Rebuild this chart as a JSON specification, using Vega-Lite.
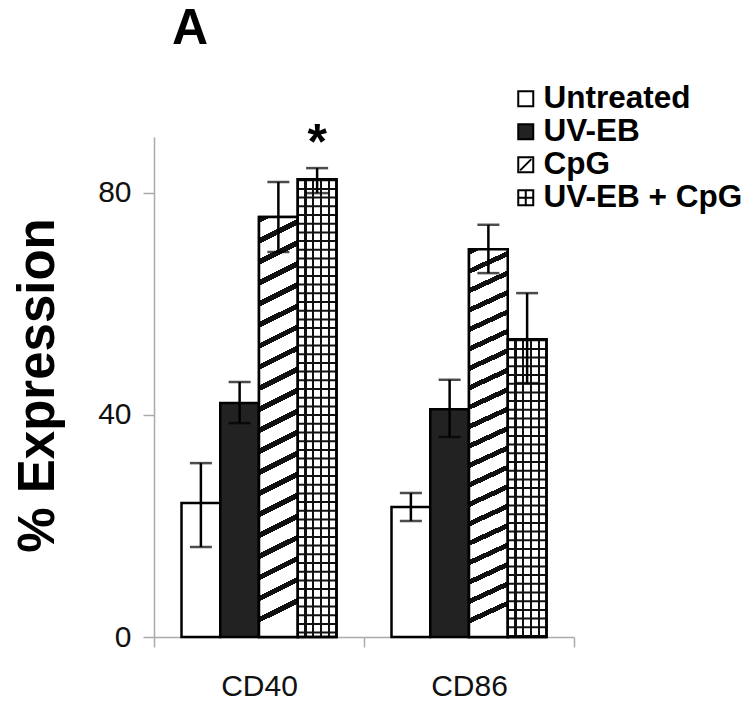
{
  "$schema": "https://vega.github.io/schema/vega-lite/v6.json",
  "width": 420,
  "height": 500,
  "autosize": {"type": "none"},
  "padding": {"left": 154, "top": 137, "right": 176, "bottom": 78},
  "background": "white",
  "config": {"view": {"stroke": null}, "font": "Liberation Sans"},
  "title": {"text": "A", "anchor": "start", "frame": "group", "fontSize": 50, "fontWeight": "bold", "font": "Liberation Sans", "color": "black", "dx": 18, "offset": -11, "baseline": "alphabetic"},
  "data": {"values": [
    {"marker": "CD40", "treatment": "Untreated", "value": 24.1, "lo": 16.2, "hi": 31.3},
    {"marker": "CD40", "treatment": "UV-EB", "value": 42.1, "lo": 38.5, "hi": 45.9},
    {"marker": "CD40", "treatment": "CpG", "value": 75.6, "lo": 69.3, "hi": 81.9},
    {"marker": "CD40", "treatment": "UV-EB + CpG", "value": 82.4, "lo": 79.9, "hi": 84.4, "sig": "*"},
    {"marker": "CD86", "treatment": "Untreated", "value": 23.4, "lo": 20.9, "hi": 25.9},
    {"marker": "CD86", "treatment": "UV-EB", "value": 41.0, "lo": 36.0, "hi": 46.3},
    {"marker": "CD86", "treatment": "CpG", "value": 69.8, "lo": 65.5, "hi": 74.2},
    {"marker": "CD86", "treatment": "UV-EB + CpG", "value": 53.6, "lo": 45.7, "hi": 61.9}
  ]},
  "encoding": {
    "x": {"field": "marker", "type": "nominal", "title": null,
      "scale": {"paddingInner": 0, "paddingOuter": 0},
      "axis": {"tickBand": "extent", "labelAngle": 0, "domainColor": "#aaaaaa", "tickColor": "#aaaaaa", "tickSize": 10, "domainWidth": 1.5, "tickWidth": 1.5, "labelFontSize": 30, "labelFont": "Liberation Sans", "labelColor": "#111111", "labelPadding": 24}},
    "xOffset": {"field": "treatment", "type": "nominal", "sort": ["Untreated", "UV-EB", "CpG", "UV-EB + CpG"],
      "scale": {"domain": ["Untreated", "UV-EB", "CpG", "UV-EB + CpG"], "paddingInner": 0, "paddingOuter": 0.71}}
  },
  "layer": [
    {
      "mark": {"type": "bar", "stroke": "black", "strokeWidth": 2.5},
      "encoding": {
        "y": {"field": "value", "type": "quantitative", "title": "% Expression", "scale": {"domain": [0, 90]},
          "axis": {"values": [0, 40, 80], "grid": false, "domainColor": "#aaaaaa", "tickColor": "#aaaaaa", "domainWidth": 1.5, "tickWidth": 1.5, "tickSize": 11, "labelFontSize": 30, "labelFont": "Liberation Sans", "labelColor": "#111111", "labelPadding": 12,
            "titleFontSize": 51, "titleFontWeight": "bold", "titleFont": "Liberation Sans", "titleColor": "black", "titleX": -101, "titleY": 248, "titleAngle": -90, "titleBaseline": "alphabetic", "titleAlign": "center"}},
        "color": {"field": "treatment", "type": "nominal", "sort": ["Untreated", "UV-EB", "CpG", "UV-EB + CpG"],
          "scale": {"domain": ["Untreated", "UV-EB", "CpG", "UV-EB + CpG"], "range": ["#ffffff", "#222222", "#ffffff", "#ffffff"]},
          "legend": {"orient": "none", "legendX": 356, "legendY": -54, "title": null, "symbolSize": 225, "labelFontSize": 31.5, "labelFontWeight": "bold", "labelFont": "Liberation Sans", "labelColor": "black", "labelOffset": 2, "rowPadding": 0, "padding": 0, "labelLimit": 400, "symbolStrokeWidth": 2, "symbolStrokeColor": "black",
            "encode": {"symbols": {"update": {"shape": {"signal": "datum.value === 'CpG' ? 'M-1,-1H1V1H-1ZM-0.75,0.75L0.75,-0.75' : (datum.value === 'UV-EB + CpG' ? 'M-1,-1H1V1H-1ZM0,-1V1M-1,0H1' : 'square')"}, "stroke": {"value": "black"}, "strokeWidth": {"value": 2}}}}}}
      }
    },
    {
      "transform": [{"filter": "datum.treatment === 'CpG'"}],
      "mark": {"type": "bar", "stroke": "black", "strokeWidth": 2.5,
        "fill": {"gradient": "linear", "x1": 0, "y1": 0, "x2": 0.046, "y2": 1, "stops": [
          {"offset": 0, "color": "#111111"}, {"offset": 0.014, "color": "#111111"}, {"offset": 0.014, "color": "#ffffff"}, {"offset": 0.05, "color": "#ffffff"},
          {"offset": 0.05, "color": "#111111"}, {"offset": 0.064, "color": "#111111"}, {"offset": 0.064, "color": "#ffffff"}, {"offset": 0.1, "color": "#ffffff"},
          {"offset": 0.1, "color": "#111111"}, {"offset": 0.114, "color": "#111111"}, {"offset": 0.114, "color": "#ffffff"}, {"offset": 0.15, "color": "#ffffff"},
          {"offset": 0.15, "color": "#111111"}, {"offset": 0.164, "color": "#111111"}, {"offset": 0.164, "color": "#ffffff"}, {"offset": 0.2, "color": "#ffffff"},
          {"offset": 0.2, "color": "#111111"}, {"offset": 0.214, "color": "#111111"}, {"offset": 0.214, "color": "#ffffff"}, {"offset": 0.25, "color": "#ffffff"},
          {"offset": 0.25, "color": "#111111"}, {"offset": 0.264, "color": "#111111"}, {"offset": 0.264, "color": "#ffffff"}, {"offset": 0.3, "color": "#ffffff"},
          {"offset": 0.3, "color": "#111111"}, {"offset": 0.314, "color": "#111111"}, {"offset": 0.314, "color": "#ffffff"}, {"offset": 0.35, "color": "#ffffff"},
          {"offset": 0.35, "color": "#111111"}, {"offset": 0.364, "color": "#111111"}, {"offset": 0.364, "color": "#ffffff"}, {"offset": 0.4, "color": "#ffffff"},
          {"offset": 0.4, "color": "#111111"}, {"offset": 0.414, "color": "#111111"}, {"offset": 0.414, "color": "#ffffff"}, {"offset": 0.45, "color": "#ffffff"},
          {"offset": 0.45, "color": "#111111"}, {"offset": 0.464, "color": "#111111"}, {"offset": 0.464, "color": "#ffffff"}, {"offset": 0.5, "color": "#ffffff"},
          {"offset": 0.5, "color": "#111111"}, {"offset": 0.514, "color": "#111111"}, {"offset": 0.514, "color": "#ffffff"}, {"offset": 0.55, "color": "#ffffff"},
          {"offset": 0.55, "color": "#111111"}, {"offset": 0.564, "color": "#111111"}, {"offset": 0.564, "color": "#ffffff"}, {"offset": 0.6, "color": "#ffffff"},
          {"offset": 0.6, "color": "#111111"}, {"offset": 0.614, "color": "#111111"}, {"offset": 0.614, "color": "#ffffff"}, {"offset": 0.65, "color": "#ffffff"},
          {"offset": 0.65, "color": "#111111"}, {"offset": 0.664, "color": "#111111"}, {"offset": 0.664, "color": "#ffffff"}, {"offset": 0.7, "color": "#ffffff"},
          {"offset": 0.7, "color": "#111111"}, {"offset": 0.714, "color": "#111111"}, {"offset": 0.714, "color": "#ffffff"}, {"offset": 0.75, "color": "#ffffff"},
          {"offset": 0.75, "color": "#111111"}, {"offset": 0.764, "color": "#111111"}, {"offset": 0.764, "color": "#ffffff"}, {"offset": 0.8, "color": "#ffffff"},
          {"offset": 0.8, "color": "#111111"}, {"offset": 0.814, "color": "#111111"}, {"offset": 0.814, "color": "#ffffff"}, {"offset": 0.85, "color": "#ffffff"},
          {"offset": 0.85, "color": "#111111"}, {"offset": 0.864, "color": "#111111"}, {"offset": 0.864, "color": "#ffffff"}, {"offset": 0.9, "color": "#ffffff"},
          {"offset": 0.9, "color": "#111111"}, {"offset": 0.914, "color": "#111111"}, {"offset": 0.914, "color": "#ffffff"}, {"offset": 0.95, "color": "#ffffff"},
          {"offset": 0.95, "color": "#111111"}, {"offset": 0.964, "color": "#111111"}, {"offset": 0.964, "color": "#ffffff"}, {"offset": 1, "color": "#ffffff"}
        ]}},
      "encoding": {"y": {"field": "value", "type": "quantitative", "title": "% Expression", "scale": {"domain": [0, 90]}}}
    },
    {
      "transform": [{"filter": "datum.treatment === 'UV-EB + CpG'"}],
      "mark": {"type": "bar", "strokeWidth": 0,
        "fill": {"gradient": "linear", "x1": 0, "y1": 0, "x2": 1, "y2": 0, "stops": [
          {"offset": 0, "color": "rgba(0,0,0,0)"}, {"offset": 0.174, "color": "rgba(0,0,0,0)"}, {"offset": 0.174, "color": "#111111"}, {"offset": 0.226, "color": "#111111"},
          {"offset": 0.226, "color": "rgba(0,0,0,0)"}, {"offset": 0.374, "color": "rgba(0,0,0,0)"}, {"offset": 0.374, "color": "#111111"}, {"offset": 0.426, "color": "#111111"},
          {"offset": 0.426, "color": "rgba(0,0,0,0)"}, {"offset": 0.574, "color": "rgba(0,0,0,0)"}, {"offset": 0.574, "color": "#111111"}, {"offset": 0.626, "color": "#111111"},
          {"offset": 0.626, "color": "rgba(0,0,0,0)"}, {"offset": 0.774, "color": "rgba(0,0,0,0)"}, {"offset": 0.774, "color": "#111111"}, {"offset": 0.826, "color": "#111111"},
          {"offset": 0.826, "color": "rgba(0,0,0,0)"}, {"offset": 1, "color": "rgba(0,0,0,0)"}
        ]}},
      "encoding": {"y": {"field": "value", "type": "quantitative", "title": "% Expression", "scale": {"domain": [0, 90]}}}
    },
    {
      "transform": [{"filter": "datum.treatment === 'UV-EB + CpG'"}],
      "mark": {"type": "rule", "color": "#111111", "strokeWidth": 38.7, "strokeDash": [2, 6.7]},
      "encoding": {
        "y": {"field": "value", "type": "quantitative", "title": "% Expression", "scale": {"domain": [0, 90]}},
        "y2": {"datum": 0}
      }
    },
    {
      "transform": [{"filter": "datum.treatment === 'UV-EB + CpG'"}],
      "mark": {"type": "bar", "fillOpacity": 0, "fill": "white", "stroke": "black", "strokeWidth": 2.5},
      "encoding": {"y": {"field": "value", "type": "quantitative", "title": "% Expression", "scale": {"domain": [0, 90]}}}
    },
    {
      "mark": {"type": "rule", "color": "black", "strokeWidth": 2.5},
      "encoding": {
        "y": {"field": "lo", "type": "quantitative", "title": "% Expression", "scale": {"domain": [0, 90]}},
        "y2": {"field": "hi"}
      }
    },
    {
      "mark": {"type": "tick", "orient": "horizontal", "color": "black", "size": 22, "thickness": 2.5},
      "encoding": {"y": {"field": "lo", "type": "quantitative", "title": "% Expression", "scale": {"domain": [0, 90]}}}
    },
    {
      "mark": {"type": "tick", "orient": "horizontal", "color": "black", "size": 22, "thickness": 2.5},
      "encoding": {"y": {"field": "hi", "type": "quantitative", "title": "% Expression", "scale": {"domain": [0, 90]}}}
    },
    {
      "transform": [{"filter": "datum.sig"}],
      "mark": {"type": "text", "fontSize": 50, "fontWeight": "bold", "font": "Liberation Sans", "color": "black", "baseline": "alphabetic", "dy": -9},
      "encoding": {
        "y": {"field": "hi", "type": "quantitative", "title": "% Expression", "scale": {"domain": [0, 90]}},
        "text": {"field": "sig"}
      }
    }
  ]
}
